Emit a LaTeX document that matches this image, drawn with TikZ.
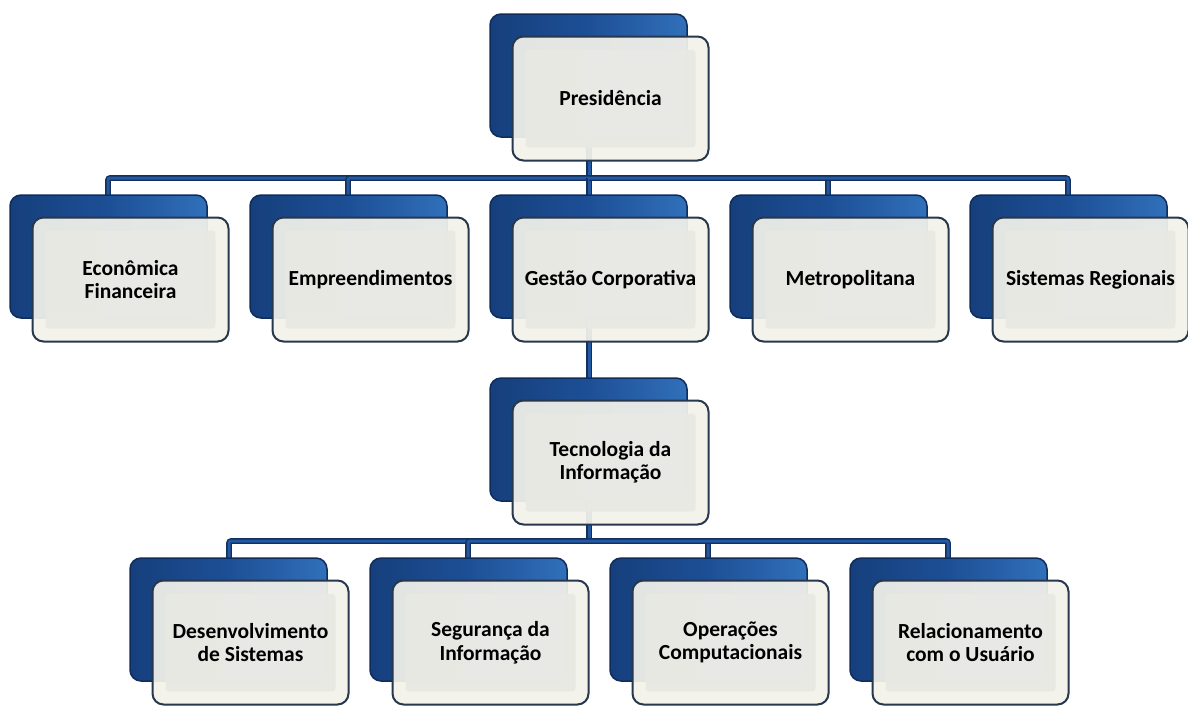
\documentclass[tikz,border=0pt]{standalone}
\usepackage{fontspec}
\setmainfont{Carlito}
\usetikzlibrary{calc}
\definecolor{bluedark}{HTML}{163F7C}
\definecolor{bluemid}{HTML}{1D4F96}
\definecolor{bluelight}{HTML}{3170BA}
\definecolor{blueedge}{HTML}{0F2C5A}
\definecolor{frontedge}{HTML}{27374D}
\definecolor{frontouter}{HTML}{F3F2EA}
\definecolor{frontinner}{HTML}{E9E9E4}
\definecolor{linedark}{HTML}{132F5A}
\definecolor{linemid}{HTML}{2358A2}
\tikzset{
  bluebox/.style={rectangle, rounded corners=11pt, minimum width=197pt, minimum height=123pt,
    draw=blueedge, line width=1.5pt, left color=bluedark, right color=bluelight, middle color=bluemid},
  frontbox/.style={rectangle, rounded corners=11pt, minimum width=196pt, minimum height=124pt,
    draw=frontedge, line width=2pt, fill=frontouter, fill opacity=0.93, text opacity=1,
    align=center, font=\fontsize{21.5}{23.5}\selectfont\bfseries, text=black,
    path picture={\fill[frontinner, rounded corners=3pt]
      ([shift={(13pt,-13pt)}]path picture bounding box.north west) rectangle
      ([shift={(-13pt,13pt)}]path picture bounding box.south east);}},
  conn/.style={draw=linedark, line width=1.3pt, double=linemid, double distance=3pt, rounded corners=2pt}
}
\newcommand{\obox}[4]{%
  \node[bluebox] (#1b) at (#2+98.5,#3+61.5) {};
  \node[frontbox] (#1) at (#2+120.5,#3+84.5) {#4};
}
\begin{document}
\begin{tikzpicture}[x=1pt,y=-1pt]
\useasboundingbox (0,0) rectangle (1188,705);
% bus coordinates
\coordinate (bus1) at (589,178);
\coordinate (bus2) at (589,541);
% connectors (drawn first, under boxes)
\path (589,137) coordinate (presbot) (589,318) coordinate (gestbot) (589,378) coordinate (tectop) (589,500) coordinate (tecbot);
\draw[conn] (presbot) -- (bus1);
\draw[conn] (bus1) -| (108,195) coordinate (econtop);
\draw[conn] (bus1) -| (348,195) coordinate (emprtop);
\draw[conn] (bus1) -- (589,195) coordinate (gesttop);
\draw[conn] (bus1) -| (828,195) coordinate (metrtop);
\draw[conn] (bus1) -| (1068,195) coordinate (sisttop);
\draw[conn] (gestbot) -- (tectop);
\draw[conn] (tecbot) -- (bus2);
\draw[conn] (bus2) -| (229,558) coordinate (desetop);
\draw[conn] (bus2) -| (468,558) coordinate (segutop);
\draw[conn] (bus2) -| (708,558) coordinate (opertop);
\draw[conn] (bus2) -| (948,558) coordinate (relatop);
% boxes
\obox{pres}{490}{14}{Presidência}
\obox{econ}{10}{195}{Econômica\\Financeira}
\obox{empr}{250}{195}{Empreendimentos}
\obox{gest}{490}{195}{Gestão Corporativa}
\obox{metr}{730}{195}{Metropolitana}
\obox{sist}{970}{195}{Sistemas Regionais}
\obox{tec}{490}{378}{Tecnologia da\\Informação}
\obox{dese}{130}{558}{Desenvolvimento\\de Sistemas}
\obox{segu}{370}{558}{Segurança da\\Informação}
\obox{oper}{610}{558}{Operações\\Computacionais}
\obox{rela}{850}{558}{Relacionamento\\com o Usuário}
\end{tikzpicture}
\end{document}
